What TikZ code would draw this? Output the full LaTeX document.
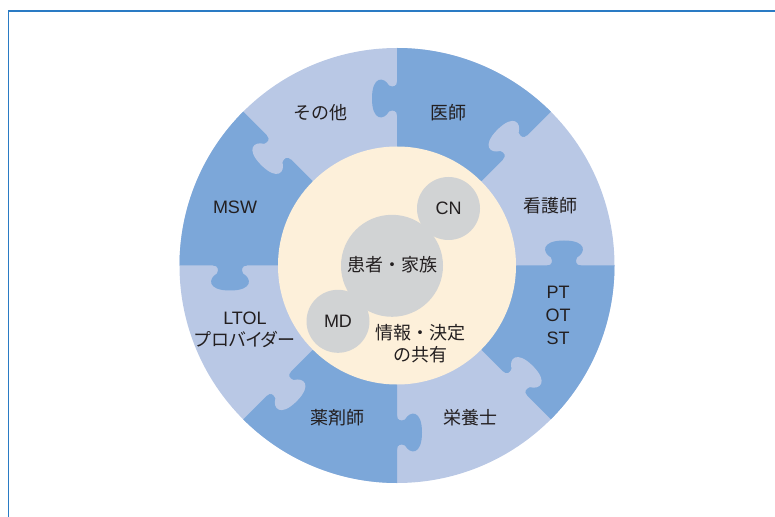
\documentclass[tikz,border=0pt]{standalone}
\usepackage{fontspec}
\setmainfont{Liberation Sans}
\newfontfamily\jp{Noto Sans CJK JP}
\newfontfamily\jpp[RawFeature=+palt]{Noto Sans CJK JP}
\definecolor{lightpc}{HTML}{B9C8E5}
\definecolor{darkpc}{HTML}{7CA7D9}
\definecolor{creamc}{HTML}{FDF0DA}
\definecolor{grayc}{HTML}{D1D3D4}
\definecolor{framec}{HTML}{2A7BC4}
\definecolor{textc}{HTML}{231F20}
\begin{document}
\begin{tikzpicture}[x=1pt,y=1pt,
  lbl/.style={text=textc, font=\fontsize{18}{22}\selectfont, align=center, inner sep=0pt},
  framel/.style={draw=framec, line width=1.6pt},
  bubble/.style={circle, fill=grayc, inner sep=0pt}]
\useasboundingbox (-397,-250.5) rectangle (378,265.5);
% frame
\draw[framel] (-388.5,-252) -- (-388.5,254.5) -- (380,254.5);
% ring
\fill[lightpc] (0,0) circle[radius=217.5];
\foreach \a in {45,135,225,315}{
  \fill[darkpc] (0,0) -- (\a:217.5) arc[start angle=\a, end angle=\a+45, radius=217.5] -- cycle;
}
% puzzle tabs
\foreach \ang/\col in {0/darkpc,45/lightpc,90/darkpc,135/lightpc,180/darkpc,225/lightpc,270/darkpc,315/lightpc}{
  \fill[\col, rotate=\ang] (150,0) .. controls (155,0) and (156,4) .. (154,8)
    .. controls (145,13) and (144,25) .. (167,25)
    .. controls (190,25) and (189,13) .. (180,8)
    .. controls (178,4) and (179,0) .. (184,0)
    -- (184,-1.5) -- (150,-1.5) -- cycle;
}
% inner disc
\fill[creamc] (0,0) circle[radius=119];
\node[bubble, minimum size=102pt] (pat) at (-5,-0.3) {};
\node[bubble, minimum size=63pt] (cn) at (51.5,57) {};
\node[bubble, minimum size=63pt] (md) at (-59,-55.8) {};
\node[lbl] (patt) at (-5,0.5) {\jp 患者・家族};
\node[lbl] (cnt) at (cn) {CN};
\node[lbl] (mdt) at (md) {MD};
\node[lbl] (info) at (23.5,-78.5) {\jp 情報・決定\\\jp の共有};
% ring labels
\node[lbl] (sonota) at (-77,152.5) {\jp その他};
\node[lbl] (ishi) at (51,152.5) {\jp 医師};
\node[lbl] (kango) at (153,59.5) {\jp 看護師};
\node[lbl, font=\fontsize{18}{23}\selectfont] (pt) at (161,-49.5) {PT\\OT\\ST};
\node[lbl] (eiyo) at (73,-152.5) {\jp 栄養士};
\node[lbl] (yaku) at (-59.5,-152) {\jp 薬剤師};
\node[lbl] (ltol) at (-152,-64.5) {LTOL\\\jpp プロバイダー};
\node[lbl] (msw) at (-162,58.5) {MSW};
\end{tikzpicture}
\end{document}
